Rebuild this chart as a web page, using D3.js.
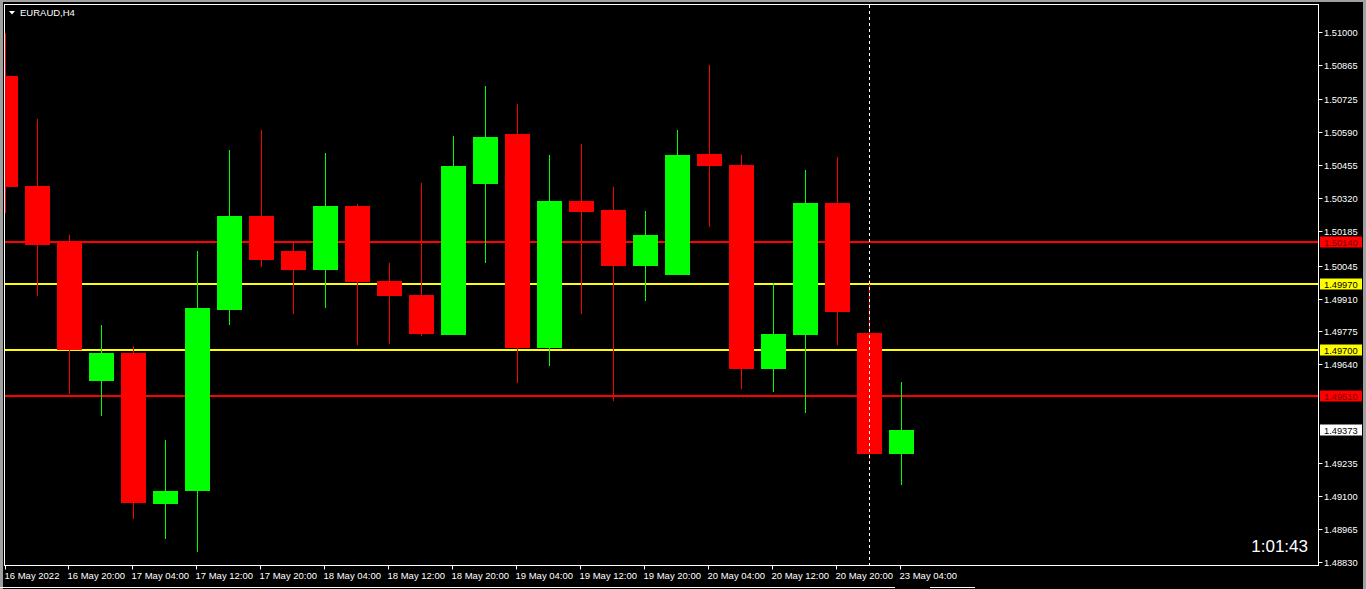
<!DOCTYPE html>
<html>
<head>
<meta charset="utf-8">
<script src="https://cdn.jsdelivr.net/npm/d3@7"></script>
<style>
  html, body { margin: 0; padding: 0; background: #000; overflow: hidden; }
  svg { display: block; }
  text { font-family: "Liberation Sans", Arial, sans-serif; }
</style>
</head>
<body>
<svg id="chart" width="1366" height="589"></svg>
<script>
// ---------------- data ----------------
const symbol = "EURAUD,H4";
const timer = "1:01:43";
const opens  = [1.50821,1.50370,1.50144,1.49572,1.49687,1.49070,1.49123,1.49864,1.50248,1.50105,1.50028,1.50289,1.49982,1.49925,1.49762,1.50380,1.50584,1.49709,1.50309,1.50272,1.50044,1.50008,1.50502,1.50457,1.49623,1.49762,1.50301,1.49769,1.49275];
const highs  = [1.50997,1.50645,1.50170,1.49802,1.49716,1.49331,1.50105,1.50518,1.50600,1.50139,1.50506,1.50297,1.50055,1.50383,1.50575,1.50780,1.50706,1.50498,1.50543,1.50367,1.50268,1.50600,1.50866,1.50498,1.49972,1.50436,1.50489,1.49986,1.49568];
const lows   = [1.50260,1.49922,1.49520,1.49430,1.49009,1.48927,1.48874,1.49803,1.50040,1.49848,1.49873,1.49721,1.49725,1.49758,1.49762,1.50057,1.49565,1.49635,1.49848,1.49492,1.49901,1.50008,1.50204,1.49541,1.49529,1.49443,1.49721,1.49254,1.49148];
const closes = [1.50368,1.50130,1.49701,1.49687,1.49074,1.49122,1.49871,1.50248,1.50069,1.50028,1.50289,1.49979,1.49922,1.49766,1.50453,1.50571,1.49709,1.50309,1.50266,1.50044,1.50170,1.50498,1.50454,1.49623,1.49765,1.50301,1.49856,1.49275,1.49373];

const timeTickIndex = [0,2,4,6,8,10,12,14,16,18,20,22,24,26,28];
const timeTickLabels = ["16 May 2022","16 May 20:00","17 May 04:00","17 May 12:00","17 May 20:00","18 May 04:00","18 May 12:00","18 May 20:00","19 May 04:00","19 May 12:00","19 May 20:00","20 May 04:00","20 May 12:00","20 May 20:00","23 May 04:00"];

const priceTicks = [1.51000,1.50865,1.50725,1.50590,1.50455,1.50320,1.50185,1.50045,1.49910,1.49775,1.49640,1.49235,1.49100,1.48965,1.48830];

const levelPrices = [1.50140, 1.49970, 1.49700, 1.49510];
const levelColors = ["#ff0000", "#ffff00", "#ffff00", "#ff0000"];
const levelTextColors = ["#7a0000", "#000000", "#000000", "#7a0000"];

const separatorIndex = 27;   // 23 May 00:00 dashed separator
const bid = 1.49373;

// ---------------- layout ----------------
const svg = d3.select("#chart");
const W = 1366, H = 589;
const plot = { left: 4.5, top: 4.5, right: 1318.5, bottom: 565.5 };

const y = d3.scaleLinear().domain([1.48830, 1.51000]).range([562.3, 32.3]);
const x = d3.scaleLinear().domain([0, 1]).range([5.5, 37.5]);  // one H4 bar = 32px
const bodyW = 25;

// window borders
svg.append("rect").attr("x", 0).attr("y", 0).attr("width", W).attr("height", H).attr("fill", "#000");
svg.append("rect").attr("x", 0).attr("y", 0).attr("width", 3).attr("height", H).attr("fill", "#a0a0a0");
svg.append("rect").attr("x", 0).attr("y", 0).attr("width", W).attr("height", 2).attr("fill", "#a0a0a0");
svg.append("rect").attr("x", W - 3).attr("y", 0).attr("width", 3).attr("height", H).attr("fill", "#a0a0a0");
svg.append("line").attr("x1", 0).attr("x2", 895).attr("y1", 587.5).attr("y2", 587.5).attr("stroke", "#ffffff");
svg.append("line").attr("x1", 930).attr("x2", 975).attr("y1", 587.5).attr("y2", 587.5).attr("stroke", "#ffffff");

// clip for plot
svg.append("defs").append("clipPath").attr("id", "plotclip")
  .append("rect").attr("x", 5).attr("y", 5).attr("width", plot.right - 5).attr("height", plot.bottom - 5);

const g = svg.append("g").attr("clip-path", "url(#plotclip)");

// level lines
levelPrices.forEach((p, i) => {
  g.append("line")
    .attr("x1", 5).attr("x2", plot.right)
    .attr("y1", Math.round(y(p)) ).attr("y2", Math.round(y(p)))
    .attr("stroke", levelColors[i]).attr("stroke-width", 2);
});

// candles
const bars = d3.range(opens.length).map(i => ({ i, o: opens[i], h: highs[i], l: lows[i], c: closes[i] }));
const cg = g.append("g").attr("shape-rendering", "crispEdges");
cg.selectAll("line.wick").data(bars).join("line")
  .attr("class", "wick")
  .attr("x1", d => Math.floor(x(d.i)) + 0.5).attr("x2", d => Math.floor(x(d.i)) + 0.5)
  .attr("y1", d => y(d.h)).attr("y2", d => y(d.l))
  .attr("stroke", d => d.c >= d.o ? "#00ff00" : "#ff0000").attr("stroke-width", 1);
cg.selectAll("rect.body").data(bars).join("rect")
  .attr("class", "body")
  .attr("x", d => x(d.i) - bodyW / 2)
  .attr("width", bodyW)
  .attr("y", d => y(Math.max(d.o, d.c)))
  .attr("height", d => Math.max(1, Math.abs(y(d.o) - y(d.c))))
  .attr("fill", d => d.c >= d.o ? "#00ff00" : "#ff0000");

// dashed separator
g.append("line")
  .attr("x1", Math.floor(x(separatorIndex)) + 0.5).attr("x2", Math.floor(x(separatorIndex)) + 0.5)
  .attr("y1", 5).attr("y2", plot.bottom)
  .attr("stroke", "#ffffff").attr("stroke-width", 1).attr("stroke-dasharray", "3,3");

// frame
svg.append("rect")
  .attr("x", plot.left).attr("y", plot.top)
  .attr("width", plot.right - plot.left).attr("height", plot.bottom - plot.top)
  .attr("fill", "none").attr("stroke", "#ffffff").attr("stroke-width", 1);

// price axis
const ya = svg.append("g");
priceTicks.forEach(p => {
  const yy = Math.round(y(p)) + 0.5;
  ya.append("line").attr("x1", plot.right).attr("x2", plot.right + 4).attr("y1", yy).attr("y2", yy).attr("stroke", "#fff");
  ya.append("text").attr("x", 1324).attr("y", yy).attr("dy", "0.35em")
    .attr("fill", "#ffffff").attr("font-size", "9.3px").text(p.toFixed(5));
});

// level price labels
function priceLabel(p, bg, fg) {
  const yy = Math.round(y(p));
  ya.append("rect").attr("x", 1320).attr("y", yy - 5.5).attr("width", 42).attr("height", 11).attr("fill", bg);
  ya.append("text").attr("x", 1324).attr("y", yy + 0.5).attr("dy", "0.35em")
    .attr("fill", fg).attr("font-size", "9.3px").text(p.toFixed(5));
}
levelPrices.forEach((p, i) => priceLabel(p, levelColors[i], levelTextColors[i]));
priceLabel(bid, "#ffffff", "#000000");

// time axis
const xa = svg.append("g");
timeTickIndex.forEach((ti, k) => {
  const xx = ti === 0 ? 5.5 : Math.floor(x(ti)) - 0.5;
  xa.append("line").attr("x1", xx).attr("x2", xx).attr("y1", plot.bottom).attr("y2", plot.bottom + 4).attr("stroke", "#fff");
  xa.append("text").attr("x", xx - 1).attr("y", 579).attr("fill", "#ffffff")
    .attr("font-size", "9.5px").text(timeTickLabels[k]);
});

// title
svg.append("path").attr("d", "M9,11 L15,11 L12,14.5 Z").attr("fill", "#ffffff");
svg.append("text").attr("x", 20).attr("y", 16).attr("fill", "#ffffff").attr("font-size", "9.5px").text(symbol);

// timer
svg.append("text").attr("x", 1308).attr("y", 552).attr("text-anchor", "end")
  .attr("fill", "#ffffff").attr("font-size", "17px").text(timer);
</script>
</body>
</html>
